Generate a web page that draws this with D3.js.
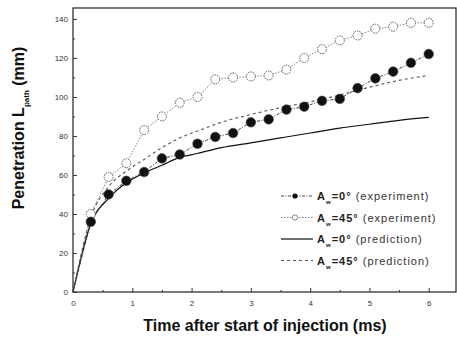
<!DOCTYPE html>
<html>
<head>
<meta charset="utf-8">
<script src="https://cdn.jsdelivr.net/npm/d3@7"></script>
<style>
  body { margin: 0; background: #fff; }
  svg { display: block; font-family: "Liberation Sans", Arial, sans-serif; }
</style>
</head>
<body>
<svg id="chart" width="457" height="338"></svg>
<script>
var expTime = [0, 0.3, 0.6, 0.9, 1.2, 1.5, 1.8, 2.1, 2.4, 2.7, 3.0, 3.3, 3.6, 3.9, 4.2, 4.5, 4.8, 5.1, 5.4, 5.7, 6.0];
var exp0 = [0, 36, 50, 57, 61.5, 68.5, 70.5, 76, 79.5, 81.5, 87, 88.5, 93.5, 95, 98, 99, 104.5, 109.5, 113, 117.5, 122];
var exp45 = [0, 40, 59, 66, 83, 90, 97, 100, 109, 110, 110.5, 111, 114, 120, 124.5, 129, 131.5, 135, 136, 138, 138];

var predTime = [0, 0.3, 0.6, 0.9, 1.2, 1.5, 1.8, 2.1, 2.5, 3.0, 3.5, 4.0, 4.5, 5.0, 5.5, 6.0];
var pred0 = [0, 35, 48, 56, 61, 65, 69, 71, 74, 76.5, 79, 81.5, 84, 86, 88, 89.5];
var pred45 = [0, 38, 54, 62, 68, 74, 79, 82.5, 87, 91, 94.5, 97.5, 101, 105, 108.5, 111];

var xTicks = [0, 1, 2, 3, 4, 5, 6];
var yTicks = [0, 20, 40, 60, 80, 100, 120, 140];

var legendRows = [
  { sub: "w", eq: "=0\u00b0", note: " (experiment)", kind: "exp0" },
  { sub: "w", eq: "=45\u00b0", note: " (experiment)", kind: "exp45" },
  { sub: "w", eq: "=0\u00b0", note: " (prediction)", kind: "pred0" },
  { sub: "w", eq: "=45\u00b0", note: " (prediction)", kind: "pred45" }
];

var svg = d3.select("#chart");
var margin = { left: 73, top: 8, right: 1, bottom: 46 };
var width = 457 - margin.left - margin.right,
    height = 338 - margin.top - margin.bottom;

var x = d3.scaleLinear().domain([0, 6.46]).range([0, width]);
var y = d3.scaleLinear().domain([0, 145.6]).range([height, 0]);

var g = svg.append("g").attr("transform", "translate(" + margin.left + "," + margin.top + ")");

// frame
g.append("rect")
  .attr("width", width).attr("height", height)
  .attr("fill", "none").attr("stroke", "#222").attr("stroke-width", 1.2);

// axes, ticks pointing inward
g.append("g").attr("transform", "translate(0," + height + ")")
  .call(d3.axisBottom(x).tickValues(xTicks).tickSize(-4).tickPadding(8).tickFormat(d3.format("d")));
g.append("g").attr("transform", "translate(0," + height + ")")
  .call(d3.axisBottom(x).tickValues(d3.range(0.5, 6.5, 1)).tickSize(-2).tickFormat(""));
g.append("g")
  .call(d3.axisLeft(y).tickValues(yTicks).tickSize(-4).tickPadding(5));
g.append("g")
  .call(d3.axisLeft(y).tickValues(d3.range(10, 150, 20)).tickSize(-2).tickFormat(""));
g.selectAll(".domain").remove();
g.selectAll(".tick line").attr("stroke", "#333");
g.selectAll(".tick text").attr("fill", "#333").style("font-size", "8px");

function series(xs, ys) {
  return xs.map(function (t, i) { return [t, ys[i]]; });
}

var line = d3.line().x(function (d) { return x(d[0]); }).y(function (d) { return y(d[1]); });
var curve = d3.line().curve(d3.curveMonotoneX).x(function (d) { return x(d[0]); }).y(function (d) { return y(d[1]); });

var styles = {
  pred0: { stroke: "#111", width: 1.2, dash: null },
  pred45: { stroke: "#555", width: 1.1, dash: "3,3" },
  exp0: { stroke: "#333", width: 0.9, dash: "3,1.5,1,1.5" },
  exp45: { stroke: "#666", width: 0.8, dash: "1.5,1.5" }
};

g.append("path").datum(series(predTime, pred0))
  .attr("d", curve).attr("fill", "none")
  .attr("stroke", styles.pred0.stroke).attr("stroke-width", styles.pred0.width);
g.append("path").datum(series(predTime, pred45))
  .attr("d", curve).attr("fill", "none")
  .attr("stroke", styles.pred45.stroke).attr("stroke-width", styles.pred45.width)
  .attr("stroke-dasharray", styles.pred45.dash);

var d45 = series(expTime, exp45), d0 = series(expTime, exp0);
g.append("path").datum(d45).attr("d", line).attr("fill", "none")
  .attr("stroke", styles.exp45.stroke).attr("stroke-width", styles.exp45.width)
  .attr("stroke-dasharray", styles.exp45.dash);
g.append("path").datum(d0).attr("d", line).attr("fill", "none")
  .attr("stroke", styles.exp0.stroke).attr("stroke-width", styles.exp0.width)
  .attr("stroke-dasharray", styles.exp0.dash);

g.selectAll(".open").data(d45.slice(1)).enter().append("circle")
  .attr("cx", function (d) { return x(d[0]); }).attr("cy", function (d) { return y(d[1]); })
  .attr("r", 4.5).attr("fill", "#fff").attr("stroke", "#555").attr("stroke-width", 1)
  .attr("stroke-dasharray", "1.5,1");
g.selectAll(".filled").data(d0.slice(1)).enter().append("circle")
  .attr("cx", function (d) { return x(d[0]); }).attr("cy", function (d) { return y(d[1]); })
  .attr("r", 4.8).attr("fill", "#111").attr("stroke", "#444").attr("stroke-width", 0.6);

// legend
var leg = svg.append("g").attr("transform", "translate(281,196)");
legendRows.forEach(function (r, i) {
  var row = leg.append("g").attr("transform", "translate(0," + (i * 21.5) + ")");
  var s = styles[r.kind];
  row.append("line").attr("x1", 0).attr("x2", 32).attr("y1", 0).attr("y2", 0)
    .attr("stroke", s.stroke).attr("stroke-width", s.width).attr("stroke-dasharray", s.dash);
  if (r.kind === "exp0") row.append("circle").attr("cx", 14).attr("cy", 0).attr("r", 2.6).attr("fill", "#111");
  if (r.kind === "exp45") row.append("circle").attr("cx", 14).attr("cy", 0).attr("r", 2.6)
    .attr("fill", "#fff").attr("stroke", "#666").attr("stroke-width", 0.8);
  var t = row.append("text").attr("x", 36).attr("y", 4).attr("fill", "#222")
    .style("font-size", "11px").style("font-weight", "bold").style("letter-spacing", "1px");
  t.append("tspan").text("A");
  t.append("tspan").attr("dy", 4).style("font-size", "6px").text(r.sub);
  t.append("tspan").attr("dy", -4).text(r.eq);
  t.append("tspan").style("font-weight", "normal").attr("fill", "#333").text(r.note);
});

// axis titles
svg.append("text").attr("x", 265).attr("y", 331).attr("text-anchor", "middle")
  .style("font-size", "16px").style("font-weight", "bold").attr("fill", "#111")
  .text("Time after start of injection (ms)");

var yt = svg.append("text").attr("transform", "translate(24,128) rotate(-90)")
  .attr("text-anchor", "middle").style("font-size", "16px").style("font-weight", "bold").attr("fill", "#111");
yt.append("tspan").text("Penetration L");
yt.append("tspan").attr("dy", 5).style("font-size", "8px").text("path");
yt.append("tspan").attr("dy", -5).text(" (mm)");
</script>
</body>
</html>
